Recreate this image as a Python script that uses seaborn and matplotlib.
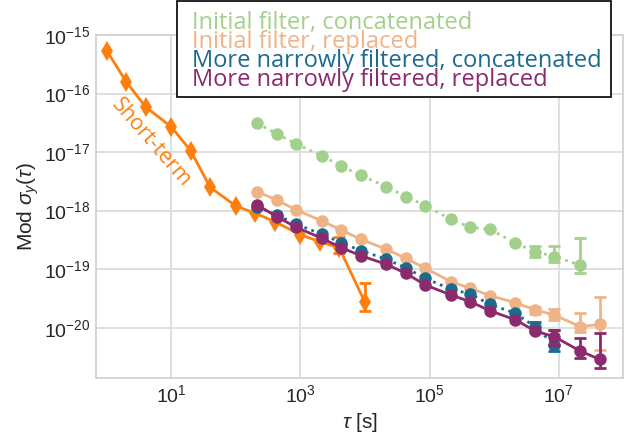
import numpy as np
import pandas as pd
import matplotlib
matplotlib.use("Agg")
import matplotlib.pyplot as plt
import matplotlib.ticker as mticker
from matplotlib.lines import Line2D
from matplotlib.patches import Rectangle
import seaborn as sns

# ---------------- data ----------------
tau_short = [1, 2, 4, 10, 20, 40, 100, 200, 400, 1000, 2000, 4000, 10000]
y_short = [5.4e-16, 1.6e-16, 5.9e-17, 2.7e-17, 1.05e-17, 2.5e-18, 1.2e-18,
           9.0e-19, 6.5e-19, 3.85e-19, 2.95e-19, 2.3e-19, 2.7e-20]
err_short_tau = [4000, 10000]
err_short_hi = [3.6e-19, 5.9e-20]
err_short_lo = [1.9e-19, 1.95e-20]

tau_long = [214, 428, 856, 2140, 4280, 8560, 21400, 42800, 85600, 214000,
            428000, 856000, 2.14e6, 4.28e6, 8.56e6, 2.14e7, 4.28e7]

y_init_concat = [3.1e-17, 2.05e-17, 1.38e-17, 8.6e-18, 5.8e-18, 4.0e-18,
                 2.57e-18, 1.74e-18, 1.22e-18, 7.1e-19, 5.2e-19, 4.8e-19,
                 2.77e-19, 2.0e-19, 1.64e-19, 1.17e-19]
err_init_concat_tau = [4.28e6, 8.56e6, 2.14e7]
err_init_concat_hi = [2.5e-19, 2.5e-19, 3.4e-19]
err_init_concat_lo = [1.6e-19, 1.31e-19, 8.5e-20]

y_init_repl = [2.11e-18, 1.52e-18, 1.03e-18, 6.67e-19, 4.68e-19, 3.24e-19,
               2.19e-19, 1.53e-19, 1.04e-19, 6.1e-20, 4.72e-20, 3.53e-20,
               2.67e-20, 2.01e-20, 1.65e-20, 1.04e-20, 1.14e-20]
err_init_repl_tau = [4.28e6, 8.56e6, 2.14e7, 4.28e7]
err_init_repl_hi = [2.29e-20, 2.07e-20, 1.76e-20, 3.3e-20]
err_init_repl_lo = [1.7e-20, 1.36e-20, 8.55e-21, 4.17e-21]

y_narrow_concat = [1.16e-18, 8.4e-19, 5.9e-19, 3.95e-19, 2.84e-19, 2.07e-19,
                   1.48e-19, 1.05e-19, 6.98e-20, 4.53e-20, 3.77e-20, 2.51e-20,
                   1.76e-20, 1.04e-20, 5.06e-21]
err_narrow_concat_tau = [4.28e6, 8.56e6]
err_narrow_concat_hi = [1.26e-20, 9.1e-21]
err_narrow_concat_lo = [8.6e-21, 4.0e-21]

y_narrow_repl = [1.25e-18, 7.9e-19, 5.2e-19, 3.37e-19, 2.33e-19, 1.7e-19,
                 1.21e-19, 8.5e-20, 5.37e-20, 3.62e-20, 2.78e-20, 1.95e-20,
                 1.36e-20, 8.8e-21, 7.0e-21, 4.0e-21, 2.88e-21]
err_narrow_repl_tau = [8.56e6, 2.14e7, 4.28e7]
err_narrow_repl_hi = [9.1e-21, 6.6e-21, 8.2e-21]
err_narrow_repl_lo = [5.06e-21, 3.07e-21, 2.02e-21]

labels = ["Initial filter, concatenated", "Initial filter, replaced",
          "More narrowly filtered, concatenated", "More narrowly filtered, replaced"]
c_short = "#ff7f0e"
c_green = "#a3d18c"
c_peach = "#f0b386"
c_blue = "#1b6b8f"
c_purple = "#8b2a6d"

# ---------------- style ----------------
sns.set_theme(style="whitegrid")
plt.rcParams["font.family"] = ["Liberation Sans", "DejaVu Sans"]
plt.rcParams["mathtext.fontset"] = "custom"
plt.rcParams["mathtext.rm"] = "Liberation Sans"
plt.rcParams["mathtext.it"] = "Liberation Sans:italic"
plt.rcParams["mathtext.bf"] = "Liberation Sans:bold"
plt.rcParams["axes.edgecolor"] = "#d0d0d0"
plt.rcParams["grid.color"] = "#dcdcdc"
plt.rcParams["grid.linewidth"] = 1.3

W, H = 633, 438
fig = plt.figure(figsize=(W / 100, H / 100), dpi=100)
ax = fig.add_axes([96 / W, 1 - 378.3 / H, (623.3 - 96) / W, (378.3 - 35) / H])


def draw(tau, y, color, ls, marker, ms, etau, ehi, elo, z):
    df = pd.DataFrame({"tau": tau[:len(y)], "y": y})
    sns.lineplot(data=df, x="tau", y="y", color=color, linestyle=ls, linewidth=2,
                 marker=marker, markersize=ms, markeredgewidth=0, ax=ax,
                 errorbar=None, zorder=z)
    ydf = dict(zip(df["tau"], df["y"]))
    yc = np.array([ydf[t] for t in etau])
    lower = yc - np.array(elo)
    upper = np.array(ehi) - yc
    ax.errorbar(etau, yc, yerr=[lower, upper], fmt="none", ecolor=color,
                elinewidth=2, capsize=4.5, capthick=2, zorder=z)


draw(tau_short, y_short, c_short, "-", "d", 10.5, err_short_tau, err_short_hi, err_short_lo, 3)
draw(tau_long, y_init_concat, c_green, ":", "o", 9, err_init_concat_tau,
     err_init_concat_hi, err_init_concat_lo, 4)
draw(tau_long, y_init_repl, c_peach, "-", "o", 9, err_init_repl_tau,
     err_init_repl_hi, err_init_repl_lo, 5)
draw(tau_long, y_narrow_concat, c_blue, ":", "o", 9, err_narrow_concat_tau,
     err_narrow_concat_hi, err_narrow_concat_lo, 6)
draw(tau_long, y_narrow_repl, c_purple, "-", "o", 9, err_narrow_repl_tau,
     err_narrow_repl_hi, err_narrow_repl_lo, 7)

ax.set_xscale("log")
ax.set_yscale("log")
ax.set_xlim(10 ** -0.166, 1e8)
ax.set_ylim(10 ** -20.865, 1e-15)
ax.xaxis.set_major_locator(mticker.FixedLocator([1e1, 1e3, 1e5, 1e7]))
ax.yaxis.set_major_locator(mticker.LogLocator(base=10, numticks=20))
ax.xaxis.set_minor_locator(mticker.NullLocator())
ax.yaxis.set_minor_locator(mticker.NullLocator())
ax.xaxis.set_major_formatter(mticker.LogFormatterSciNotation())
ax.yaxis.set_major_formatter(mticker.LogFormatterSciNotation())
ax.tick_params(axis="both", labelsize=14, pad=4, length=0)
ax.set_xlabel(r"$\tau$ [s]", fontsize=15, labelpad=4)
ax.set_ylabel(r"Mod $\sigma_y(\tau)$", fontsize=15, labelpad=2)

ax.text(4.9, 1.45e-17, "Short-term", color=c_short, fontsize=15.5,
        family=["Open Sans", "DejaVu Sans"], rotation=-49,
        ha="center", va="center", rotation_mode="anchor", zorder=8)

# legend: text-only entries inside a black box
handles = [Line2D([], [], linestyle="none") for _ in labels]
leg = fig.legend(handles, labels, loc="upper left",
                 bbox_to_anchor=(191.7 / W, 1 - 11.0 / H),
                 borderaxespad=0, borderpad=0, labelspacing=-0.21,
                 handlelength=0, handletextpad=0, frameon=False,
                 prop={"family": ["Open Sans", "DejaVu Sans"], "size": 17},
                 labelcolor=[c_green, c_peach, c_blue, c_purple])
leg.set_zorder(20)
fig.patches.append(Rectangle((177.3 / W, 1 - 97.3 / H), (610.7 - 177.3) / W,
                             (97.3 - 0.7) / H, transform=fig.transFigure,
                             facecolor="white", edgecolor="black",
                             linewidth=1.2, zorder=19))

fig.savefig("out.png", dpi=100)
